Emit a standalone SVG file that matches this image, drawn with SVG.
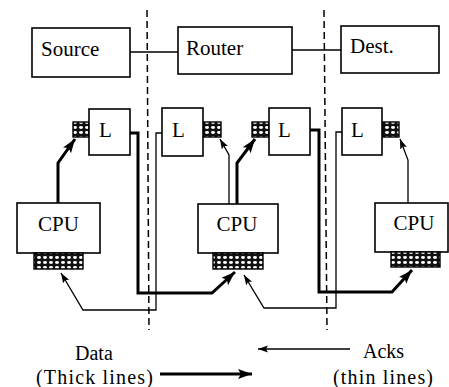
<svg xmlns="http://www.w3.org/2000/svg" width="449" height="387" viewBox="0 0 449 387">
<style>
.box{fill:#fff;stroke:#000;stroke-width:1.6}
.hatch{fill:url(#dots);stroke:#000;stroke-width:1.4}
.t{font-family:"Liberation Serif","Times New Roman",serif;font-size:21px;fill:#000}
.lg{font-size:20px}
.thick{fill:none;stroke:#000;stroke-width:3;stroke-linejoin:miter}
.thin{fill:none;stroke:#000;stroke-width:1.3}
.dash{fill:none;stroke:#000;stroke-width:1.5;stroke-dasharray:7 4}
</style>
<defs>
<pattern id="dots" width="6" height="5" patternUnits="userSpaceOnUse">
<rect width="6" height="5" fill="#111"/>
<ellipse cx="3" cy="2.5" rx="2" ry="1.4" fill="#fff"/>
</pattern>
<marker id="ah" markerWidth="16" markerHeight="12" refX="14" refY="5" orient="auto" markerUnits="userSpaceOnUse">
<path d="M0,0 L14,5 L0,10 L3,5 z" fill="#000"/>
</marker>
<marker id="ahs" markerWidth="12" markerHeight="8" refX="10" refY="3.5" orient="auto" markerUnits="userSpaceOnUse">
<path d="M0,0 L10,3.5 L0,7 L2,3.5 z" fill="#000"/>
</marker>
</defs>

<line class="dash" x1="147" y1="10" x2="149" y2="330"/>
<line class="dash" x1="324" y1="10" x2="327" y2="330"/>

<g id="connectors">
<line class="thin" x1="130" y1="52" x2="178" y2="52"/>
<line class="thin" x1="292" y1="50" x2="341" y2="50"/>
<path class="thick" d="M58,203 V163 L75,139" marker-end="url(#ah)"/>
<path class="thick" d="M130,133 H138 V293 H212 L235,272" marker-end="url(#ah)"/>
<path class="thick" d="M237,204 V163 L255,139" marker-end="url(#ah)"/>
<path class="thick" d="M310,130 H319 V292 H392 L412,270" marker-end="url(#ah)"/>
<path class="thin" d="M162,133 H156 V310 H83 L61,273" marker-end="url(#ahs)"/>
<path class="thin" d="M229,204 V155 L220,139" marker-end="url(#ahs)"/>
<path class="thin" d="M342,132 H336 V308 H264 L244,275" marker-end="url(#ahs)"/>
<path class="thin" d="M408,203 V160 L400,139" marker-end="url(#ahs)"/>
<path class="thick" d="M160,374 H252" marker-end="url(#ah)"/>
<path class="thin" d="M350,349 H258" marker-end="url(#ahs)"/>
</g>

<g id="source"><rect class="box" x="32" y="28" width="98" height="49"/><text class="t" x="41" y="56">Source</text></g>
<g id="router"><rect class="box" x="178" y="27" width="114" height="47"/><text class="t" x="186" y="55">Router</text></g>
<g id="dest"><rect class="box" x="341" y="26" width="98" height="47"/><text class="t" x="350" y="53">Dest.</text></g>

<g id="l1"><rect class="hatch" x="73" y="122" width="16" height="15"/><rect class="box" x="89" y="109" width="41" height="46"/><text class="t" x="99" y="137">L</text></g>
<g id="l2"><rect class="hatch" x="203" y="122" width="18" height="15"/><rect class="box" x="162" y="108" width="41" height="48"/><text class="t" x="172" y="137">L</text></g>
<g id="l3"><rect class="hatch" x="252" y="122" width="17" height="15"/><rect class="box" x="269" y="108" width="41" height="47"/><text class="t" x="278" y="137">L</text></g>
<g id="l4"><rect class="hatch" x="382" y="122" width="17" height="15"/><rect class="box" x="342" y="108" width="40" height="47"/><text class="t" x="351" y="137">L</text></g>

<g id="cpu1"><rect class="box" x="17" y="203" width="83" height="50"/><rect class="hatch" x="34" y="253" width="49" height="16"/><text class="t" x="58.5" y="231" text-anchor="middle">CPU</text></g>
<g id="cpu2"><rect class="box" x="198" y="204" width="80" height="49"/><rect class="hatch" x="213" y="253" width="50" height="16"/><text class="t" x="237" y="231" text-anchor="middle">CPU</text></g>
<g id="cpu3"><rect class="box" x="375" y="203" width="73" height="49"/><rect class="hatch" x="391" y="252" width="49" height="15"/><text class="t" x="414" y="230" text-anchor="middle">CPU</text></g>

<g id="legend">
<text class="t lg" x="75" y="360">Data</text>
<text class="t lg" x="36" y="384" textLength="117" lengthAdjust="spacing">(Thick lines)</text>
<text class="t lg" x="363" y="358">Acks</text>
<text class="t lg" x="333" y="384" textLength="100" lengthAdjust="spacing">(thin lines)</text>
</g>
</svg>
